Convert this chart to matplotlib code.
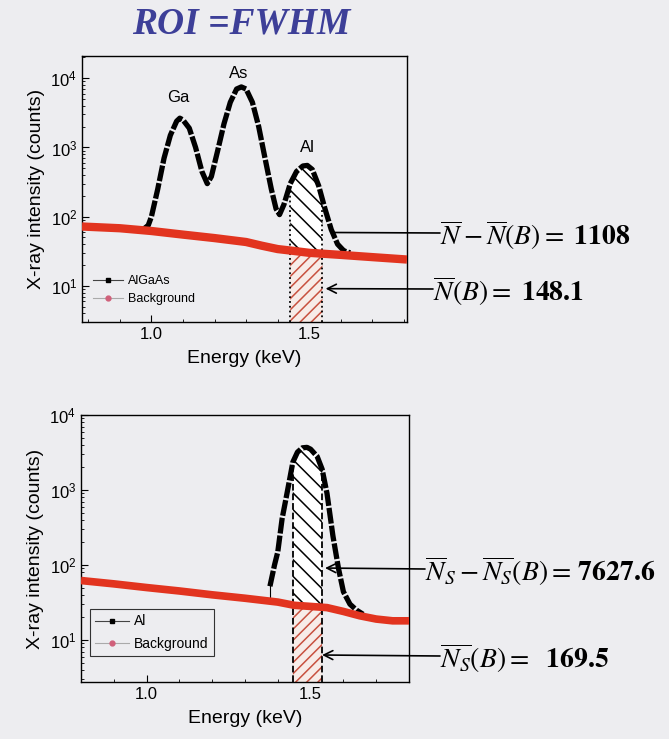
import numpy as np
import matplotlib
matplotlib.use("Agg")
import matplotlib.pyplot as plt
from matplotlib.lines import Line2D
from matplotlib.ticker import MultipleLocator, FormatStrFormatter, LogLocator, NullFormatter

plt.rcParams['font.family'] = ['Liberation Sans', 'DejaVu Sans']
plt.rcParams['mathtext.fontset'] = 'stix'
plt.rcParams['hatch.linewidth'] = 1.1

# --- top panel: AlGaAs spectrum (keV, counts) ---
e_algaas = [0.97, 0.99, 1.00, 1.02, 1.04, 1.06, 1.08, 1.09, 1.10, 1.12, 1.14, 1.16,
            1.177, 1.19, 1.21, 1.23, 1.25, 1.27, 1.285, 1.30, 1.32, 1.34, 1.36, 1.38,
            1.395, 1.406, 1.42, 1.44, 1.46, 1.48, 1.494, 1.51, 1.53, 1.55, 1.57, 1.59,
            1.61, 1.63]
c_algaas = [63, 75, 100, 250, 700, 1500, 2400, 2650, 2500, 1900, 1000, 450,
            300, 380, 900, 2200, 4500, 7000, 7500, 7000, 4500, 2000, 700, 250,
            130, 107, 150, 300, 450, 540, 550, 480, 280, 130, 65, 40,
            32, 30]
e_bg1 = [0.78, 0.9, 1.0, 1.1, 1.2, 1.3, 1.35, 1.4, 1.45, 1.5, 1.6, 1.7, 1.81]
c_bg1 = [72, 68, 62, 55, 49, 43, 38, 34, 32, 30, 28, 26, 24]
roi1 = (1.44, 1.542)

# --- bottom panel: Al standard ---
e_al = [1.376, 1.39, 1.40, 1.413, 1.43, 1.446, 1.46, 1.475, 1.489, 1.50, 1.52,
        1.535, 1.55, 1.568, 1.585, 1.60, 1.62, 1.64, 1.66]
c_al = [52, 100, 150, 410, 1000, 2360, 3200, 3650, 3700, 3500, 2800,
        1900, 900, 245, 90, 44, 30, 25, 22]
e_bg2 = [0.8, 0.9, 1.0, 1.1, 1.2, 1.3, 1.4, 1.45, 1.5, 1.55, 1.6, 1.65, 1.7, 1.75, 1.8]
c_bg2 = [62, 56, 50, 45, 40, 36, 32, 29, 28, 27, 24, 21, 19, 18, 18]
roi2 = (1.446, 1.535)

W, H = 669, 739
bgc = '#ededf0'
red = '#e2341f'
fig = plt.figure(figsize=(W / 100, H / 100), dpi=100, facecolor=bgc)


def fx(px):
    return px / W


def fy(py):
    return 1 - py / H


ax1 = fig.add_axes([fx(82), fy(322), (407 - 82) / W, (322 - 56) / H])
ax2 = fig.add_axes([fx(81), fy(682), (409 - 81) / W, (682 - 415) / H])


def hatch_roi(ax, e, c, eb, cb, roi, ymin, vstyle):
    xs = np.linspace(roi[0], roi[1], 60)
    top = np.exp(np.interp(xs, e, np.log(c)))
    bot = np.exp(np.interp(xs, eb, np.log(cb)))
    ax.fill_between(xs, bot, top, facecolor='white', edgecolor='black',
                    hatch='\\\\', lw=0, zorder=2)
    ax.fill_between(xs, ymin, bot, facecolor='#f7ece8', edgecolor='#c8513f',
                    hatch='///', lw=0, zorder=2)
    for xv, yv in [(xs[0], top[0]), (xs[-1], top[-1])]:
        ax.plot([xv, xv], [ymin, yv], color='black', lw=1.3, ls=vstyle, zorder=3)


def style(ax, xlim, ylim):
    ax.set_facecolor('none')
    ax.set_yscale('log')
    ax.set_xlim(*xlim)
    ax.set_ylim(*ylim)
    ax.xaxis.set_major_locator(MultipleLocator(0.5))
    ax.xaxis.set_minor_locator(MultipleLocator(0.1))
    ax.xaxis.set_major_formatter(FormatStrFormatter('%.1f'))
    ax.yaxis.set_major_locator(LogLocator(base=10, numticks=10))
    ax.yaxis.set_minor_locator(LogLocator(base=10, subs=np.arange(2, 10), numticks=10))
    ax.yaxis.set_minor_formatter(NullFormatter())
    ax.tick_params(which='both', direction='in', top=False, right=False, labelsize=12)
    ax.tick_params(which='major', length=5)
    ax.tick_params(which='minor', length=2.5)
    for s in ax.spines.values():
        s.set_linewidth(1.0)
    ax.set_xlabel('Energy (keV)', fontsize=14, labelpad=6)
    ax.set_ylabel('X-ray intensity (counts)', fontsize=14)


# top panel
style(ax1, (0.78, 1.81), (3, 2.1e4))
hatch_roi(ax1, e_algaas, c_algaas, e_bg1, c_bg1, roi1, 3, ':')
ax1.plot(e_algaas, c_algaas, color='black', lw=3.8, dashes=(3, 0.4), zorder=4)
ax1.plot(e_bg1, c_bg1, color=red, lw=6, solid_capstyle='butt', zorder=5)
ax1.text(1.086, 5300, 'Ga', fontsize=12, ha='center', va='center')
ax1.text(1.277, 11800, 'As', fontsize=12, ha='center', va='center')
ax1.text(1.494, 1000, 'Al', fontsize=12, ha='center', va='center')
h1 = [Line2D([], [], color='#444444', lw=0.8, marker='s', ms=3.5, mfc='black', mec='black'),
      Line2D([], [], color='#aaaaaa', lw=0.8, marker='o', ms=3.5, mfc='#d0607a', mec='#d0607a')]
ax1.legend(h1, ['AlGaAs', 'Background'], loc='lower left', bbox_to_anchor=(0.0, 0.02),
           frameon=False, fontsize=9, handlelength=2.4, handletextpad=0.4, labelspacing=0.5)

# bottom panel
style(ax2, (0.8, 1.8), (2.75, 1.0e4))
hatch_roi(ax2, e_al, c_al, e_bg2, c_bg2, roi2, 2.75, '--')
ax2.plot(e_al, c_al, color='black', lw=3.8, dashes=(3, 0.4), zorder=4)
ax2.plot([e_al[0], e_al[0]], [c_al[0], 35], color='black', lw=0.8, zorder=4)
ax2.plot(e_bg2, c_bg2, color=red, lw=5.5, solid_capstyle='butt', zorder=5)
h2 = [Line2D([], [], color='#444444', lw=0.8, marker='s', ms=3.5, mfc='black', mec='black'),
      Line2D([], [], color='#aaaaaa', lw=0.8, marker='o', ms=3.5, mfc='#d0607a', mec='#d0607a')]
leg = ax2.legend(h2, ['Al', 'Background'], loc='lower left', bbox_to_anchor=(0.006, 0.07),
                 fontsize=10, handlelength=2.4, handletextpad=0.4, labelspacing=0.6,
                 fancybox=False, framealpha=1, facecolor=bgc, edgecolor='#333333')
leg.get_frame().set_linewidth(0.8)

# title
fig.text(fx(241), fy(24), 'ROI =FWHM', family='Liberation Serif', fontsize=27,
         fontweight='bold', style='italic', color='#3d3f98', ha='center', va='center')

# annotations
eq = [
    (ax1, (1.581, 59), (440, 233), r'$\overline{N}-\overline{N}(B) = \ \mathbf{1108}$', '-'),
    (ax1, (1.552, 9.1), (433, 289), r'$\overline{N}(B) = \ \mathbf{148.1}$', '->'),
    (ax2, (1.544, 91), (425, 569), r'$\overline{N}_S-\overline{N_S}(B) = \,\mathbf{7627.6}$', '->'),
    (ax2, (1.535, 6.3), (440, 656), r'$\overline{N_S}(B) = \ \ \mathbf{169.5}$', '->'),
]
for ax, xy, (tx, ty), s, st in eq:
    ax.annotate('', xy=xy, xytext=(fx(tx), fy(ty)), textcoords='figure fraction',
                annotation_clip=False,
                arrowprops=dict(arrowstyle=st, color='black', lw=1.2, shrinkA=0, shrinkB=0,
                                mutation_scale=16), zorder=6)
    fig.text(fx(tx), fy(ty + 2), s, fontsize=20, ha='left', va='center')

fig.savefig('out.png', dpi=100, facecolor=bgc)
